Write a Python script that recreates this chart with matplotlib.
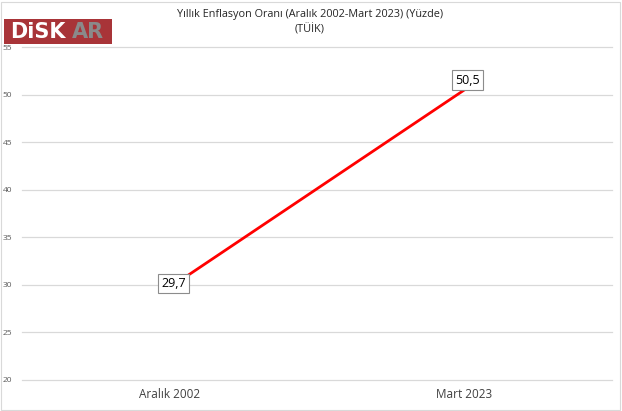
import matplotlib
matplotlib.use("Agg")
import matplotlib.pyplot as plt
from matplotlib.patches import Rectangle

categories = ["Aralık 2002", "Mart 2023"]
values = [29.7, 50.5]
labels = ["29,7", "50,5"]
yticks = [20, 25, 30, 35, 40, 45, 50, 55]

plt.rcParams['font.family'] = ['Open Sans', 'DejaVu Sans']

fig = plt.figure(figsize=(6.22, 4.11), dpi=100)
W, H = 622, 411
ax = fig.add_axes([22 / W, 1 - 380 / H, 590 / W, (380 - 47) / H])

x = list(range(len(categories)))
ax.plot(x, values, color="#ff0000", lw=2.0, zorder=3, solid_capstyle="butt")
ax.set_xlim(-0.5, 1.5)
ax.set_ylim(20, 55)
ax.set_yticks(yticks)
ax.set_yticklabels([str(t) for t in yticks], fontsize=6, color="#595959")
ax.set_xticks(x)
ax.set_xticklabels(categories, fontsize=8.5, color="#404040")
ax.tick_params(axis="both", length=0)
ax.tick_params(axis="y", pad=7)
ax.tick_params(axis="x", pad=6)
for t in yticks:
    ax.axhline(t, color="#d9d9d9", lw=0.9, zorder=0, clip_on=False)
for s in ax.spines.values():
    s.set_visible(False)

offsets = [(3, 3), (2, 7)]
for xi, v, lab, off in zip(x, values, labels, offsets):
    ax.annotate(lab, (xi, v), xytext=off, textcoords="offset points",
                ha="center", va="center", fontsize=9, color="black", zorder=5,
                fontweight="medium",
                bbox=dict(boxstyle="square,pad=0.25", fc="white", ec="#8c8c8c", lw=0.8))

fig.text(310 / W, 1 - 14 / H, "Yıllık Enflasyon Oranı (Aralık 2002-Mart 2023) (Yüzde)",
         ha="center", va="center", fontsize=7.8, color="#262626")
fig.text(310 / W, 1 - 30 / H, "(TÜİK)", ha="center", va="center", fontsize=7.8, color="#262626")

# logo
fig.patches.append(Rectangle((4 / W, 1 - 44 / H), 108 / W, 25 / H, transform=fig.transFigure,
                             facecolor="#a83438", edgecolor="none", zorder=5))
fig.text(10 / W, 1 - 32 / H, "DiSK", ha="left", va="center", fontsize=15, fontweight="bold",
         color="white", family=["DejaVu Sans"], zorder=6)
fig.text(72 / W, 1 - 32 / H, "AR", ha="left", va="center", fontsize=15, fontweight="bold",
         color="#8a8a8a", family=["DejaVu Sans"], zorder=6)

# figure border
fig.patches.append(Rectangle((1 / W, 1 / H), (W - 3) / W, (H - 3) / H, transform=fig.transFigure,
                             facecolor="none", edgecolor="#d9d9d9", lw=0.8, zorder=0))

fig.savefig("out.png", dpi=100)
